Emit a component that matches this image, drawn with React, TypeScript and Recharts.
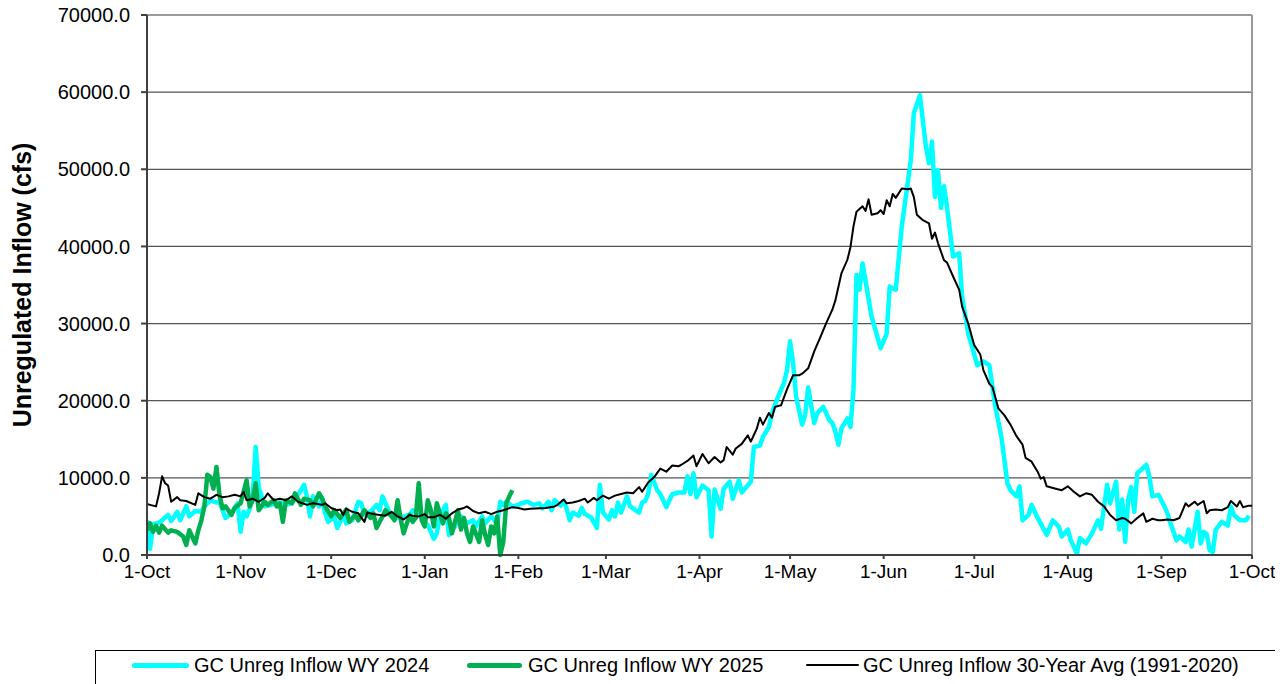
import React from "react";
import { LineChart, Line, XAxis, YAxis, CartesianGrid, ReferenceLine } from "recharts";

// Day index counted from 1-Oct (water year), value in cfs
const monthTicks = [0, 31, 61, 92, 123, 152, 183, 213, 244, 274, 305, 336, 366];
const monthLabels = ["1-Oct", "1-Nov", "1-Dec", "1-Jan", "1-Feb", "1-Mar", "1-Apr", "1-May", "1-Jun", "1-Jul", "1-Aug", "1-Sep", "1-Oct"];
const yTicks = [0, 10000, 20000, 30000, 40000, 50000, 60000, 70000];

const seriesNames = [
  "GC Unreg Inflow WY 2024",
  "GC Unreg Inflow WY 2025",
  "GC Unreg Inflow 30-Year Avg (1991-2020)",
];

const avgPoints: [number, number][] = [
  [0, 6600], [1, 6500], [2, 6400], [3, 6300], [4, 8000], [5, 10200], [6, 9300], [7, 9000], [8, 6900], [10, 7500],
  [11, 7100], [13, 7000], [16, 6500], [17, 8000], [19, 7500], [21, 7300], [23, 7800], [25, 7500], [27, 7600], [29, 7800],
  [31, 7600], [32, 8200], [33, 7100], [35, 7300], [37, 6900], [39, 7400], [40, 8000], [42, 7100], [44, 7300], [46, 7100],
  [48, 7600], [50, 6900], [53, 6500], [55, 6700], [58, 6500], [59, 6700], [61, 6100], [63, 5800], [64, 5900], [65, 5200],
  [66, 6000], [68, 5600], [70, 5400], [72, 4300], [73, 5500], [75, 5300], [77, 5200], [79, 5100], [81, 5600], [83, 5000],
  [84, 4800], [85, 4600], [87, 5200], [88, 5100], [90, 5000], [92, 5300], [93, 4900], [95, 4900], [97, 5200], [98, 5000],
  [99, 4700], [101, 5400], [103, 5900], [105, 6100], [106, 6300], [108, 5700], [110, 5400], [112, 5600], [114, 5300], [116, 5600],
  [118, 5800], [121, 6200], [123, 6100], [125, 5900], [127, 6000], [130, 6050], [132, 6100], [135, 6300], [136, 6500], [138, 7200],
  [139, 6700], [141, 6800], [143, 7000], [145, 7300], [146, 6800], [148, 7400], [149, 7100], [151, 7700], [153, 7300], [155, 7700],
  [157, 7900], [159, 8100], [161, 8000], [163, 8800], [164, 8200], [166, 9400], [168, 10100], [170, 11200], [172, 10800], [174, 11600],
  [176, 11500], [177, 11700], [179, 12200], [181, 12900], [182, 11500], [184, 13100], [186, 11900], [188, 12700], [190, 12000], [191, 12300],
  [192, 14000], [194, 13000], [195, 13800], [197, 14400], [199, 15500], [200, 14700], [202, 16400], [203, 17800], [204, 16900], [206, 18400],
  [207, 17800], [208, 19200], [210, 19400], [212, 21500], [214, 23300], [216, 23300], [217, 23500], [219, 24200], [221, 26400], [223, 28200],
  [225, 30100], [227, 31800], [228, 33000], [230, 36500], [232, 38300], [233, 39900], [234, 42600], [235, 44500], [237, 45200], [238, 44600],
  [239, 46100], [240, 44100], [242, 44300], [243, 44700], [244, 44200], [245, 46000], [246, 45200], [247, 46800], [248, 46300], [250, 47500],
  [252, 47400], [253, 47500], [254, 46400], [255, 44100], [257, 43400], [259, 43000], [260, 41000], [261, 41800], [262, 40400], [264, 38200],
  [265, 37900], [267, 36100], [269, 34400], [270, 32200], [272, 30000], [274, 27200], [276, 26000], [277, 24000], [279, 22200], [280, 21800],
  [282, 19000], [284, 18100], [286, 16900], [288, 15400], [290, 14300], [291, 12600], [293, 12100], [295, 10800], [296, 9900], [297, 10100],
  [298, 8900], [301, 8600], [303, 8400], [305, 8900], [307, 8200], [309, 7600], [311, 8000], [313, 7800], [315, 6900], [317, 6300],
  [319, 5200], [321, 4500], [323, 4800], [324, 4700], [326, 4100], [328, 4800], [330, 5400], [331, 4300], [333, 4700], [335, 4500],
  [336, 4500], [338, 4600], [340, 4500], [342, 4800], [344, 6700], [345, 6300], [347, 6900], [348, 6500], [350, 7000], [351, 5400],
  [352, 5800], [354, 5900], [356, 5800], [358, 6200], [359, 7000], [361, 6300], [362, 7000], [363, 6200], [365, 6400], [366, 6400],
];

const wy2024Points: [number, number][] = [
  [0, 4500], [1, 800], [2, 4000], [4, 4200], [5, 4500], [7, 5200], [8, 4400], [10, 5600], [11, 4500], [13, 6300],
  [14, 5000], [16, 5700], [18, 5600], [19, 6300], [21, 7100], [23, 6800], [24, 6900], [26, 4800], [28, 5400], [30, 6700],
  [31, 3000], [32, 5600], [33, 5000], [34, 6000], [35, 7600], [36, 14000], [37, 8800], [39, 6300], [41, 6500], [44, 6800],
  [46, 6500], [48, 6700], [51, 8400], [52, 9100], [53, 7500], [54, 5000], [55, 7600], [57, 6300], [58, 7400], [59, 5400],
  [60, 4300], [62, 5000], [63, 3500], [65, 5200], [66, 4100], [68, 4500], [70, 6900], [71, 6700], [72, 5200], [74, 5600],
  [76, 6500], [77, 5800], [78, 7600], [80, 5800], [81, 5200], [82, 4800], [85, 5000], [87, 5200], [88, 5800], [90, 5400],
  [92, 4100], [93, 3900], [95, 2100], [96, 2800], [97, 5000], [99, 6500], [100, 2600], [102, 3700], [103, 4800], [104, 5000],
  [106, 4100], [108, 4500], [109, 3700], [111, 5000], [112, 4100], [114, 5000], [116, 4100], [117, 6900], [118, 6500], [119, 6900],
  [121, 6300], [123, 6500], [124, 6700], [126, 6900], [128, 6500], [130, 6700], [131, 6050], [133, 6900], [134, 5800], [135, 7100],
  [137, 6400], [138, 7000], [139, 6000], [140, 4500], [141, 5500], [143, 5100], [144, 6100], [145, 5300], [147, 4900], [149, 3500],
  [150, 9100], [151, 5500], [153, 4600], [154, 5800], [155, 5000], [156, 6800], [157, 5500], [159, 7600], [160, 6300], [163, 5500],
  [164, 6800], [165, 7000], [166, 7900], [167, 10400], [169, 8400], [170, 7900], [172, 6200], [174, 7900], [176, 8100], [178, 8100],
  [179, 10200], [180, 7900], [181, 10600], [182, 7500], [184, 9000], [186, 8400], [187, 2400], [188, 8500], [190, 6000], [191, 8600],
  [193, 9500], [194, 7300], [196, 9700], [197, 8100], [198, 8600], [200, 9500], [201, 14000], [203, 14200], [204, 15300], [206, 16600],
  [207, 18400], [209, 20500], [211, 22300], [212, 24000], [213, 27700], [214, 24900], [215, 20500], [217, 16900], [218, 18200], [219, 21700],
  [221, 17100], [222, 18400], [224, 19200], [226, 17500], [227, 17100], [228, 16000], [229, 14300], [230, 16400], [232, 17700], [233, 16600],
  [234, 21400], [235, 36300], [236, 34400], [237, 37800], [240, 30900], [243, 26800], [245, 28700], [246, 34800], [248, 34400], [250, 42600],
  [253, 51200], [254, 57300], [256, 59600], [258, 52900], [259, 50800], [260, 53600], [261, 46400], [262, 49900], [263, 45000], [264, 47800],
  [265, 45000], [267, 38700], [269, 39100], [270, 33500], [272, 28700], [274, 26000], [275, 24600], [277, 25100], [279, 24600], [281, 19200],
  [283, 15300], [285, 9300], [286, 8400], [288, 7600], [289, 8900], [290, 4500], [292, 5200], [293, 6500], [295, 4800], [296, 4100],
  [298, 2600], [300, 4500], [302, 3700], [303, 2400], [305, 3300], [306, 1900], [308, 200], [309, 2200], [311, 1500], [313, 2800],
  [315, 4500], [316, 3400], [318, 9100], [319, 6700], [321, 9500], [322, 3300], [323, 7200], [324, 1700], [325, 7200], [326, 8800],
  [327, 5600], [328, 10600], [330, 11300], [331, 11700], [332, 10200], [333, 7600], [335, 7800], [337, 6300], [338, 5400], [339, 4100],
  [341, 1900], [342, 2400], [344, 1700], [345, 3300], [346, 1100], [348, 5600], [349, 1500], [350, 3000], [351, 2700], [352, 600],
  [353, 400], [354, 3300], [356, 4300], [358, 3800], [359, 6300], [360, 5200], [362, 4500], [364, 4500], [365, 5100],
];

const wy2025Points: [number, number][] = [
  [0, 3200], [1, 4100], [2, 3000], [3, 3800], [4, 2900], [5, 3800], [7, 2900], [8, 3200], [10, 3000], [12, 2400],
  [13, 1300], [14, 3200], [16, 1500], [17, 3200], [18, 4500], [19, 6300], [20, 10400], [21, 10100], [22, 8600], [23, 11400],
  [24, 7800], [25, 6050], [26, 6300], [28, 5200], [29, 6100], [31, 6700], [32, 8200], [33, 9700], [34, 6300], [35, 7100],
  [36, 9300], [37, 5800], [39, 6900], [40, 6500], [42, 7100], [43, 6300], [44, 6700], [45, 4300], [46, 7100], [48, 6700],
  [49, 8000], [51, 6500], [52, 7300], [54, 7100], [55, 6300], [57, 8000], [58, 7300], [59, 6300], [61, 5000], [62, 5800],
  [64, 4800], [66, 5900], [67, 4300], [69, 5200], [70, 4500], [72, 5800], [74, 4800], [75, 5400], [76, 3500], [78, 5000],
  [79, 5800], [81, 5000], [82, 4500], [83, 7100], [84, 4700], [85, 2800], [87, 5200], [88, 4300], [89, 4800], [90, 9300],
  [91, 4500], [92, 3700], [93, 7100], [94, 5800], [95, 3700], [96, 6700], [98, 4100], [99, 5400], [100, 4800], [101, 2800],
  [103, 5800], [104, 3300], [105, 4800], [106, 2800], [107, 1700], [108, 3700], [110, 1700], [111, 4500], [112, 2600], [113, 1300],
  [114, 3700], [115, 2800], [116, 5000], [117, 0], [118, 1700], [119, 6700], [120, 7600], [121, 8400],
];

const toData = (pts: [number, number][]) => pts.map(([day, flow]) => ({ day, flow }));

const FONT = "'Liberation Sans', Arial, sans-serif";

export default function App() {
  const legendItems = [
    { name: seriesNames[0], color: "#00FFFF", w: 5, lineLeft: 36, lineWidth: 57, textLeft: 98 },
    { name: seriesNames[1], color: "#00B050", w: 5, lineLeft: 371, lineWidth: 55, textLeft: 432 },
    { name: seriesNames[2], color: "#000000", w: 2, lineLeft: 710, lineWidth: 53, textLeft: 767 },
  ];
  return (
    <div style={{ position: "relative", width: 1283, height: 684, marginTop: -8, marginLeft: -8, fontFamily: FONT }}>
      <style>{`html,body{overflow:hidden}`}</style>
      <LineChart width={1283} height={684} margin={{ top: 15, right: 31, bottom: 89, left: 0 }}>
        <CartesianGrid horizontal={true} vertical={false} stroke="#555555" strokeWidth={1.2} />
        <XAxis
          type="number"
          dataKey="day"
          domain={[0, 366]}
          ticks={monthTicks}
          tickFormatter={(v: number) => monthLabels[monthTicks.indexOf(v)] ?? ""}
          height={40}
          interval={0}
          stroke="#404040"
          strokeWidth={2}
          tickSize={4}
          tickMargin={6}
          tick={{ fill: "#000", fontSize: 19, fontFamily: FONT }}
          allowDataOverflow
        />
        <YAxis
          type="number"
          domain={[0, 70000]}
          ticks={yTicks}
          tickFormatter={(v: number) => v.toFixed(1)}
          width={147}
          interval={0}
          stroke="#404040"
          strokeWidth={2}
          tickSize={6}
          tickMargin={11}
          tick={{ fill: "#000", fontSize: 20, fontFamily: FONT }}
          label={{
            value: "Unregulated Inflow (cfs)",
            angle: -90,
            position: "insideLeft",
            offset: 22,
            style: { textAnchor: "middle", fontSize: 25, fontWeight: "bold", fill: "#000", fontFamily: FONT },
          }}
        />
        <ReferenceLine y={70000} stroke="#9a9a9a" strokeWidth={2} />
        <ReferenceLine x={366} stroke="#9a9a9a" strokeWidth={2} />
        <Line
          data={toData(wy2024Points)}
          dataKey="flow"
          name={seriesNames[0]}
          stroke="#00FFFF"
          strokeWidth={4.5}
          dot={false}
          isAnimationActive={false}
          strokeLinejoin="round"
          type="linear"
        />
        <Line
          data={toData(wy2025Points)}
          dataKey="flow"
          name={seriesNames[1]}
          stroke="#00B050"
          strokeWidth={4.5}
          dot={false}
          isAnimationActive={false}
          strokeLinejoin="round"
          type="linear"
        />
        <Line
          data={toData(avgPoints)}
          dataKey="flow"
          name={seriesNames[2]}
          stroke="#000000"
          strokeWidth={2}
          dot={false}
          isAnimationActive={false}
          strokeLinejoin="round"
          type="linear"
        />
      </LineChart>
      <div
        style={{
          position: "absolute",
          left: 95,
          top: 650,
          width: 1186,
          height: 60,
          border: "1px solid #000",
          boxSizing: "border-box",
          background: "#fff",
        }}
      >
        {legendItems.map((it) => (
          <React.Fragment key={it.name}>
            <div
              style={{
                position: "absolute",
                left: it.lineLeft,
                top: 14 - it.w / 2,
                width: it.lineWidth,
                height: it.w,
                background: it.color,
                borderRadius: it.w / 2,
              }}
            />
            <div
              style={{
                position: "absolute",
                left: it.textLeft,
                top: 2,
                fontSize: 20,
                lineHeight: "24px",
                color: "#000",
                whiteSpace: "nowrap",
                fontFamily: FONT,
              }}
            >
              {it.name}
            </div>
          </React.Fragment>
        ))}
      </div>
    </div>
  );
}
